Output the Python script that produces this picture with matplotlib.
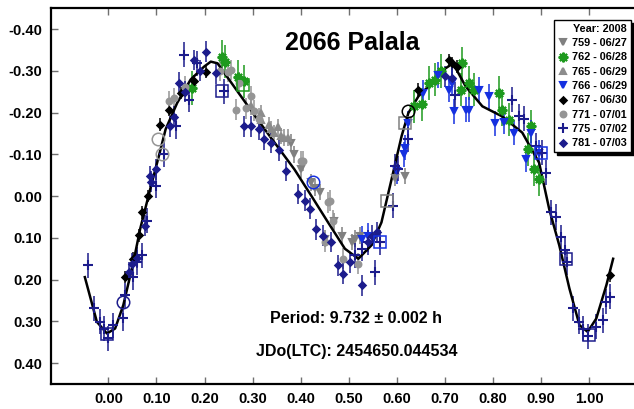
import matplotlib.pyplot as plt
from matplotlib.lines import Line2D
from matplotlib.ticker import FormatStrFormatter, MultipleLocator

plt.rcParams['font.family'] = ['Liberation Sans', 'DejaVu Sans']
plt.rcParams['axes.unicode_minus'] = False

# Fourier fit of the lightcurve (phase, reduced magnitude)
fit_phase = [-0.049, -0.024, -0.003, 0.014, 0.031, 0.052, 0.066, 0.087, 0.105, 0.119,
             0.143, 0.171, 0.199, 0.213, 0.227, 0.269, 0.300, 0.338, 0.387, 0.422,
             0.457, 0.492, 0.520, 0.547, 0.568, 0.589, 0.610, 0.624, 0.645, 0.680,
             0.700, 0.717, 0.743, 0.778, 0.819, 0.861, 0.896, 0.917, 0.938, 0.959,
             0.980, 0.997, 1.015, 1.036, 1.050]
fit_mag = [0.194, 0.301, 0.329, 0.317, 0.261, 0.158, 0.079, -0.017, -0.096, -0.160,
           -0.223, -0.279, -0.310, -0.322, -0.318, -0.250, -0.200, -0.140, -0.064, -0.001,
           0.063, 0.126, 0.150, 0.118, 0.063, -0.040, -0.144, -0.199, -0.239, -0.279,
           -0.305, -0.318, -0.263, -0.215, -0.191, -0.152, -0.080, 0.031, 0.118, 0.221,
           0.309, 0.325, 0.293, 0.213, 0.150]

# observing sessions
s759_phase = [0.380, 0.387, 0.401, 0.422, 0.450, 0.485, 0.506, 0.512, 0.523, 0.596, 0.617,
              0.430, 0.440, 0.470]
s759_mag = [-0.128, -0.100, -0.064, -0.033, 0.102, 0.095, 0.110, 0.102, 0.095, -0.044, -0.048,
            -0.020, -0.010, 0.060]

s762_phase = [0.174, 0.237, 0.269, 0.283, 0.635, 0.652, 0.666, 0.680, 0.734, 0.736,
              0.750, 0.760, 0.813, 0.819, 0.833, 0.872, 0.879, 0.886, 0.896, 0.242, 0.692]
s762_mag = [-0.259, -0.334, -0.286, -0.275, -0.215, -0.220, -0.271, -0.279, -0.255, -0.318,
            -0.271, -0.255, -0.247, -0.207, -0.183, -0.112, -0.167, -0.064, -0.040, -0.322, -0.300]

s765_phase = [0.296, 0.317, 0.317, 0.335, 0.338, 0.359, 0.366, 0.373, 0.345, 0.352]
s765_mag = [-0.215, -0.199, -0.183, -0.170, -0.160, -0.144, -0.140, -0.140, -0.150, -0.165]

s766_phase = [0.527, 0.541, 0.614, 0.617, 0.624, 0.655, 0.708, 0.715, 0.718, 0.743,
              0.750, 0.771, 0.792, 0.805, 0.823, 0.844, 0.868, 0.879, 0.896, 0.600, 0.686]
s766_mag = [0.102, 0.095, -0.100, -0.116, -0.175, -0.248, -0.255, -0.271, -0.203, -0.207,
            -0.207, -0.255, -0.239, -0.175, -0.178, -0.152, -0.088, -0.152, -0.104, -0.060, -0.290]

s767_phase = [0.035, 0.052, 0.063, 0.070, 0.082, 0.108, 0.126, 0.150, 0.178, 0.202,
              0.645, 0.708, 0.715, 0.725, 1.043]
s767_mag = [0.194, 0.150, 0.094, 0.039, 0.000, -0.171, -0.207, -0.247, -0.275, -0.298,
            -0.255, -0.326, -0.318, -0.310, 0.190]

s771_phase = [0.126, 0.136, 0.248, 0.255, 0.265, 0.272, 0.286, 0.296, 0.303, 0.314,
              0.401, 0.405, 0.450, 0.457, 0.460, 0.467, 0.488, 0.520, 0.160, 0.232]
s771_mag = [-0.227, -0.234, -0.298, -0.302, -0.207, -0.271, -0.210, -0.239, -0.204, -0.185,
            -0.084, -0.084, 0.110, 0.015, 0.011, 0.059, 0.150, 0.162, -0.262, -0.300]

s775_phase = [-0.042, -0.031, -0.017, -0.010, 0.000, 0.010, 0.031, 0.035, 0.052, 0.059,
              0.070, 0.080, 0.098, 0.115, 0.140, 0.157, 0.167, 0.185, 0.241, 0.513,
              0.527, 0.541, 0.554, 0.565, 0.593, 0.596, 0.603, 0.624, 0.722, 0.840,
              0.854, 0.864, 0.889, 0.903, 0.910, 0.921, 0.931, 0.941, 0.949, 0.955,
              0.966, 0.980, 0.987, 0.997, 1.015, 1.029, 1.036, 1.043]
s775_mag = [0.166, 0.269, 0.301, 0.317, 0.340, 0.309, 0.293, 0.237, 0.194, 0.158,
            0.142, 0.059, -0.025, -0.100, -0.167, -0.338, -0.231, -0.318, -0.251, 0.142,
            0.126, 0.110, 0.182, 0.110, 0.023, -0.072, -0.066, -0.136, -0.243, -0.231,
            -0.191, -0.185, -0.120, -0.104, -0.056, 0.039, 0.050, 0.098, 0.130, 0.158,
            0.269, 0.301, 0.317, 0.336, 0.313, 0.297, 0.253, 0.241]

s781_phase = [0.042, 0.049, 0.059, 0.077, 0.087, 0.089, 0.098, 0.129, 0.136, 0.146,
              0.178, 0.202, 0.223, 0.282, 0.296, 0.314, 0.324, 0.338, 0.370, 0.394,
              0.408, 0.432, 0.446, 0.463, 0.478, 0.488, 0.502, 0.527, 0.541, 0.548,
              0.558, 0.701, 0.715, 0.160, 0.190, 0.355, 0.420]
s781_mag = [0.182, 0.162, 0.147, 0.071, -0.048, -0.034, -0.064, -0.167, -0.190, -0.271,
            -0.326, -0.346, -0.294, -0.167, -0.167, -0.160, -0.136, -0.128, -0.060, -0.005,
            0.011, 0.079, 0.095, 0.110, 0.166, 0.186, 0.158, 0.214, 0.110, 0.095,
            0.087, -0.287, -0.283, -0.250, -0.300, -0.110, 0.030]

# session start/end points drawn as open squares and circles
box_phase = [0.237, 0.279, 0.617, 0.579, 0.565, 0.900, 0.952, -0.003, 0.999]
box_mag = [-0.251, -0.267, -0.175, 0.011, 0.110, -0.104, 0.150, 0.329, 0.333]
box_session = ['775', '762', '759', '759', '766', '766', '775', '775', '775']
ring_phase = [0.103, 0.112, 0.031, 0.425, 0.624]
ring_mag = [-0.136, -0.100, 0.253, -0.033, -0.203]
ring_session = ['771', '771', '775', '766', '767']

labels = ['759 - 06/27', '762 - 06/28', '765 - 06/29', '766 - 06/29',
          '767 - 06/30', '771 - 07/01', '775 - 07/02', '781 - 07/03']

navy = '#1c1c8c'
sessions = {
    '759': dict(x=s759_phase, y=s759_mag, c='#808080', m='v', ms=4.5, err=0.02),
    '762': dict(x=s762_phase, y=s762_mag, c='#1e9a1e', m=(8, 2, 0), ms=7, err=0.04),
    '765': dict(x=s765_phase, y=s765_mag, c='#8c8c8c', m='^', ms=4.5, err=0.02),
    '766': dict(x=s766_phase, y=s766_mag, c='#1530e0', m='v', ms=5, err=0.03),
    '767': dict(x=s767_phase, y=s767_mag, c='black', m='D', ms=3.3, err=0.015),
    '771': dict(x=s771_phase, y=s771_mag, c='#959595', m='o', ms=4.2, err=0.025),
    '775': dict(x=s775_phase, y=s775_mag, c=navy, m='+', ms=7.5, err=0.03),
    '781': dict(x=s781_phase, y=s781_mag, c=navy, m='D', ms=3.3, err=0.025),
}

fig = plt.figure(figsize=(6.34, 4.09), dpi=100)
ax = fig.add_axes([0.080, 0.061, 0.925, 0.919])

ax.plot(fit_phase, fit_mag, color='black', lw=1.8, zorder=3)

handles = []
for key, lab in zip(sessions, labels):
    s = sessions[key]
    ax.errorbar(s['x'], s['y'], yerr=s['err'], fmt='none', ecolor=s['c'],
                elinewidth=1.1, zorder=2)
    ax.plot(s['x'], s['y'], ls='none', marker=s['m'], ms=s['ms'], color=s['c'],
            mec=s['c'], mew=1.5, zorder=4)
    handles.append(Line2D([], [], ls='none', marker=s['m'], ms=s['ms'],
                          color=s['c'], mew=1.5, label=lab))

for px, py, k in zip(box_phase, box_mag, box_session):
    ax.plot(px, py, ls='none', marker='s', ms=8.5, mfc='none',
            mec=sessions[k]['c'], mew=1.1, zorder=5)
for px, py, k in zip(ring_phase, ring_mag, ring_session):
    ax.plot(px, py, ls='none', marker='o', ms=9, mfc='none',
            mec=sessions[k]['c'], mew=1.1, zorder=5)

ax.set_xlim(-0.12, 1.10)
ax.set_ylim(0.45, -0.45)
ax.xaxis.set_major_formatter(FormatStrFormatter('%.2f'))
ax.yaxis.set_major_formatter(FormatStrFormatter('%.2f'))
ax.set_xticks([i / 10 for i in range(11)])
ax.set_yticks([i / 10 for i in range(-4, 5)])
ax.tick_params(direction='in', length=5, width=1, color='#707070',
               top=True, right=False, labelsize=10.5, pad=6)
for lab in ax.get_xticklabels() + ax.get_yticklabels():
    lab.set_fontweight('bold')
for side in ('left', 'bottom', 'top'):
    ax.spines[side].set_linewidth(1.6)
ax.spines['right'].set_visible(False)

fig.text(0.555, 0.896, '2066 Palala', ha='center', va='center',
         fontsize=18, fontweight='bold')
fig.text(0.561, 0.222, 'Period: 9.732 \u00b1 0.002 h', ha='center', va='center',
         fontsize=11.5, fontweight='bold')
fig.text(0.563, 0.141, 'JDo(LTC): 2454650.044534', ha='center', va='center',
         fontsize=11.5, fontweight='bold')

leg = ax.legend(handles=handles, title='Year: 2008', loc='upper right',
                bbox_to_anchor=(631 / 634, 1 - 20 / 409), bbox_transform=fig.transFigure,
                title_fontproperties={'weight': 'bold', 'size': 7.8},
                prop={'weight': 'bold', 'size': 7.8}, alignment='right',
                frameon=True, fancybox=False, shadow={'color': 'black', 'alpha': 1},
                framealpha=1, edgecolor='black', borderpad=0.35, labelspacing=0.4,
                handlelength=0.9, handletextpad=0.4, borderaxespad=0)
leg.get_frame().set_linewidth(1.0)
leg.set_zorder(10)

fig.savefig('out.png', dpi=100)
